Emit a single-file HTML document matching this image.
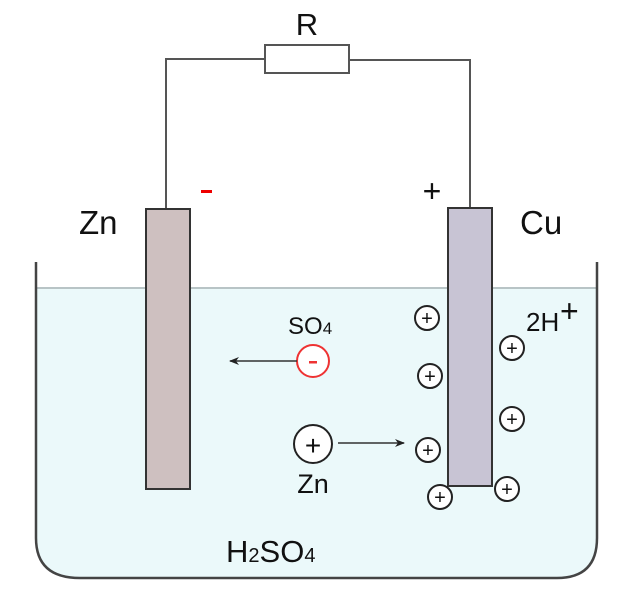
<!DOCTYPE html>
<html><head><meta charset="utf-8"><style>body{margin:0;background:#fff}svg{display:block}</style></head>
<body>
<svg width="638" height="600" viewBox="0 0 638 600" xmlns="http://www.w3.org/2000/svg" font-family="Liberation Sans, DejaVu Sans, sans-serif">
<defs><marker id="a" markerWidth="10" markerHeight="8" refX="9" refY="4" orient="auto" markerUnits="userSpaceOnUse"><path d="M0,0 L10,4 L0,8 L3,4z" fill="#222"/></marker></defs>
<path d="M37,288 H597 V538 Q597,578 557,578 H80 Q37,578 37,538 Z" fill="#ebf9fa"/>
<line x1="37" y1="288" x2="597" y2="288" stroke="#b8c4c6" stroke-width="2"/>
<path d="M36,262 V538 Q36,578 80,578 H557 Q597,578 597,538 V262" fill="none" stroke="#444" stroke-width="2.5"/>
<polyline points="166,208 166,59 265,59" fill="none" stroke="#555" stroke-width="2"/>
<polyline points="350,60 470,60 470,208" fill="none" stroke="#555" stroke-width="2"/>
<rect x="265" y="45" width="84" height="28" fill="#fff" stroke="#555" stroke-width="2"/>
<text x="307" y="35" font-size="31" text-anchor="middle" fill="#111">R</text>
<rect x="146" y="209" width="44" height="280" fill="#cec0c0" stroke="#333" stroke-width="2"/>
<rect x="448" y="208" width="44" height="278" fill="#c8c4d4" stroke="#333" stroke-width="2"/>
<text x="79" y="234" font-size="33" fill="#111">Zn</text>
<text x="520" y="234" font-size="33" fill="#111">Cu</text>
<rect x="201" y="190" width="11" height="3" fill="#e00"/>
<text x="432" y="202" font-size="32" text-anchor="middle" fill="#111">+</text>
<text x="288" y="334" font-size="24" fill="#111">SO<tspan font-size="17">4</tspan></text>
<circle cx="313" cy="361" r="16" fill="#fff" stroke="#e33" stroke-width="2"/>
<rect x="309" y="361" width="8" height="2.5" fill="#e33"/>
<line x1="297" y1="361" x2="230" y2="361" stroke="#333" stroke-width="1.5" marker-end="url(#a)"/>
<circle cx="313" cy="444" r="19" fill="#fff" stroke="#222" stroke-width="2"/>
<text x="313" y="455" font-size="28" text-anchor="middle" fill="#111">+</text>
<line x1="338" y1="443" x2="404" y2="443" stroke="#333" stroke-width="1.5" marker-end="url(#a)"/>
<text x="313" y="493" font-size="27" text-anchor="middle" fill="#111">Zn</text>
<text x="226" y="562" font-size="31" fill="#111">H<tspan font-size="20">2</tspan>SO<tspan font-size="20">4</tspan></text>
<text x="526" y="331" font-size="26" fill="#111">2H</text>
<text x="560" y="322" font-size="32" fill="#111">+</text>
<g fill="#fff" stroke="#222" stroke-width="2">
<circle cx="427" cy="318" r="12"/><circle cx="430" cy="376" r="12"/><circle cx="428" cy="450" r="12"/><circle cx="440" cy="497" r="12"/>
<circle cx="512" cy="348" r="12"/><circle cx="512" cy="419" r="12"/><circle cx="507" cy="489" r="12"/>
</g>
<g font-size="20" text-anchor="middle" fill="#111">
<text x="427" y="325">+</text><text x="430" y="383">+</text><text x="428" y="457">+</text><text x="440" y="504">+</text>
<text x="512" y="355">+</text><text x="512" y="426">+</text><text x="507" y="496">+</text>
</g>
</svg>
</body></html>
